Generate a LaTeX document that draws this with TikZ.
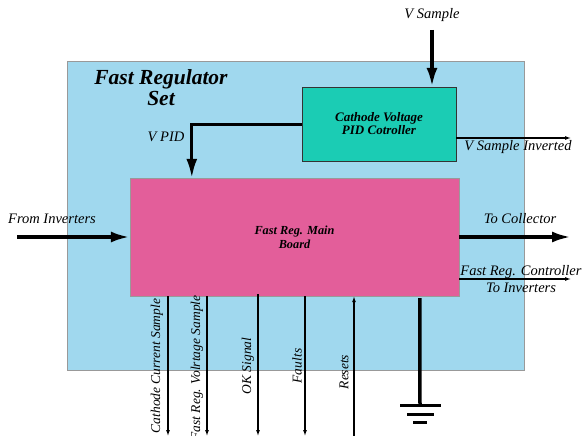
\documentclass[tikz,border=0pt]{standalone}
\usepackage{fontspec}
\setmainfont{Liberation Serif}
\usetikzlibrary{arrows.meta,positioning}
\definecolor{skyblue}{RGB}{160,216,238}
\definecolor{pidgreen}{RGB}{27,204,180}
\definecolor{boardpink}{RGB}{227,94,154}

\begin{document}
\begin{tikzpicture}[x=1pt, y=-1pt,
    bigarrow/.style={line width=3.5pt,-{Latex[length=19pt,width=11pt]}},
    sigarrow/.style={line width=1.1pt,-{Latex[length=6pt,width=4pt]}},
    lbl/.style={font=\fontsize{14.5}{17}\selectfont\itshape,inner sep=0pt,align=center},
    vlbl/.style={font=\fontsize{13.5}{15}\selectfont\itshape,inner sep=0pt,rotate=90}]
  \useasboundingbox (0,0) rectangle (584,436);

  % outer set and its title
  \node[draw=gray!80,fill=skyblue,minimum width=457pt,minimum height=309pt] (set) at (295.5,215.5) {};
  \node[font=\fontsize{21.5}{21}\selectfont\bfseries\itshape,align=center,inner sep=0pt] (title) at (161,88)
    {Fast Regulator\\Set};

  % the two boards
  \node[draw=black!80,fill=pidgreen,minimum width=154pt,minimum height=74pt,
        font=\fontsize{13}{13}\selectfont\bfseries\itshape,align=center] (pid) at (379,124)
    {Cathode Voltage\\PID Cotroller};
  \node[draw=gray!80,fill=boardpink,minimum width=329pt,minimum height=118pt,
        font=\fontsize{12.3}{14}\selectfont\bfseries\itshape,align=center] (main) at (294.5,237)
    {Fast Reg. Main\\Board};

  % free ends
  \coordinate (vs) at (432,30);
  \coordinate (fromin) at (17,237);
  \coordinate (tocoll) at (571,237);
  \coordinate (vsinv) at (571,138);
  \coordinate (toinv) at (571,279);
  \coordinate (ccs) at (168,436);
  \coordinate (fvs) at (207,436);
  \coordinate (ok) at (258,436);
  \coordinate (flt) at (305,436);
  \coordinate (rst) at (354,436);
  \coordinate (gnd) at (420,405);

  % labels
  \node[lbl] (vslbl) at (432,15) {V Sample};
  \node[lbl] (vpidlbl) at (166,137) {V PID};
  \node[lbl] (vsinvlbl) at (518,147) {V Sample Inverted};
  \node[lbl] (frominlbl) at (52,219) {From Inverters};
  \node[lbl] (tocolllbl) at (520,219) {To Collector};
  \node[lbl] (toinvlbl) at (521,279) {Fast Reg. Controller\\To Inverters};
  \node[vlbl] (ccslbl) at (157,366) {Cathode Current Sample};
  \node[vlbl] (fvslbl) at (197,368) {Fast Reg. Volrtage Sample};
  \node[vlbl] (oklbl) at (248,366) {OK Signal};
  \node[vlbl] (fltlbl) at (297,366) {Faults};
  \node[vlbl] (rstlbl) at (344,372) {Resets};

  % connectors
  \draw[bigarrow] (vs) -- (pid.north -| vs);
  \draw[bigarrow,line width=3pt] (pid.west) -| ([xshift=62pt]main.north west);
  \draw[bigarrow] (fromin) -- (main.west |- fromin);
  \draw[bigarrow] (main.east |- tocoll) -- (tocoll);
  \draw[sigarrow] (pid.east |- vsinv) -- (vsinv);
  \draw[sigarrow] (main.east |- toinv) -- (toinv);
  \draw[sigarrow] (main.south -| ccs) -- (ccs);
  \draw[sigarrow] (main.south -| fvs) -- (fvs);
  \draw[sigarrow] ([yshift=2pt]main.south -| ok) -- (ok);
  \draw[sigarrow] (main.south -| flt) -- (flt);
  \draw[sigarrow] (rst) -- (main.south -| rst);

  % ground
  \draw[line width=3.5pt] ([shift={(290,2)}]main.south west) -- (gnd);
  \draw[line width=3pt] ([xshift=-20pt]gnd) -- ([xshift=21pt]gnd);
  \draw[line width=3pt] ([shift={(-13,9)}]gnd) -- ([shift={(14,9)}]gnd);
  \draw[line width=3pt] ([shift={(-7,17)}]gnd) -- ([shift={(7,17)}]gnd);
\end{tikzpicture}
\end{document}
